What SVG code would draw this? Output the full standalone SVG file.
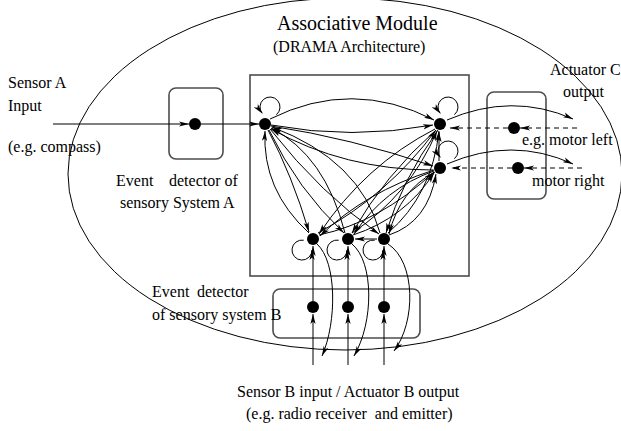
<svg xmlns="http://www.w3.org/2000/svg" width="621" height="431" viewBox="0 0 621 431">
<defs>
<marker id="ah" markerUnits="userSpaceOnUse" markerWidth="10" markerHeight="6" viewBox="0 0 10 6" refX="10" refY="3" orient="auto">
<path d="M0,0.4 L10,3 L0,5.6 L2.5,3 z" fill="#000"/>
</marker>
<style>
text{font-family:"Liberation Serif","Times New Roman",serif;font-size:16px;fill:#000}
.title{font-size:20px}
.box{fill:none;stroke:#4d4d4d;stroke-width:1.6}
.dot{fill:#000}
.c{fill:none;stroke:#000;stroke-width:1;marker-end:url(#ah)}
.d{fill:none;stroke:#000;stroke-width:1;stroke-dasharray:5,4;marker-end:url(#ah)}
.ell{fill:none;stroke:#000;stroke-width:1}
</style>
</defs>
<rect width="621" height="431" fill="#fff"/>

<g id="module">
<ellipse class="ell" cx="345" cy="174" rx="277" ry="176"/>
<text class="title" x="277" y="30">Associative Module</text>
<text x="273" y="52">(DRAMA Architecture)</text>
<rect class="box" x="250" y="75" width="219" height="201"/>
</g>

<g id="sensorA-label">
<text x="8" y="88">Sensor A</text>
<text x="8" y="111">Input</text>
<text x="8" y="152">(e.g. compass)</text>
</g>

<g id="detectorA">
<rect class="box" x="169" y="88" width="54" height="71" rx="7"/>
<circle class="dot" cx="195" cy="124" r="6"/>
<text x="116" y="186">Event<tspan x="169">detector of</tspan></text>
<text x="120" y="208">sensory System A</text>
</g>

<g id="actuatorC">
<rect class="box" x="487" y="92" width="59" height="107" rx="7"/>
<circle class="dot" cx="514" cy="128" r="6"/>
<circle class="dot" cx="518" cy="168" r="6"/>
<text x="550" y="75">Actuator C</text>
<text x="563" y="97">output</text>
<text x="522" y="145">e.g. motor left</text>
<text x="532" y="186">motor right</text>
</g>

<g id="detectorB">
<rect class="box" x="273" y="289" width="147" height="49" rx="7"/>
<circle class="dot" cx="313" cy="307" r="6"/>
<circle class="dot" cx="348" cy="307" r="6"/>
<circle class="dot" cx="384" cy="307" r="6"/>
<text x="152" y="297">Event<tspan x="197">detector</tspan></text>
<text x="152" y="320">of sensory system B</text>
</g>

<g id="sensorB-label">
<text x="237" y="397">Sensor B input / Actuator B output</text>
<text x="246" y="419">(e.g. radio receiver <tspan dx="4">and emitter)</tspan></text>
</g>

<g id="node-A"><circle class="dot" cx="265" cy="124" r="6"/></g>
<g id="node-B"><circle class="dot" cx="440" cy="124" r="6"/></g>
<g id="node-C"><circle class="dot" cx="440" cy="168" r="6"/></g>
<g id="node-D"><circle class="dot" cx="313" cy="239" r="6"/></g>
<g id="node-E"><circle class="dot" cx="348" cy="239" r="6"/></g>
<g id="node-F"><circle class="dot" cx="384" cy="239" r="6"/></g>

<g id="connectors">
<!-- external inputs -->
<path class="c" d="M53,124 L189,124"/>
<path class="c" d="M201,124 L259,124"/>
<path class="d" d="M577,128 L520,128"/>
<path class="d" d="M508,128 L450,128"/>
<path class="d" d="M582,168 L524,168"/>
<path class="d" d="M512,168 L451,168"/>
<path class="c" d="M447,120 Q512,92 573,119"/>
<path class="c" d="M447,164 Q512,136 573,164"/>
<path class="c" d="M313,365 L313,314"/>
<path class="c" d="M313,301 L313,246"/>
<path class="c" d="M348,365 L348,314"/>
<path class="c" d="M348,301 L348,246"/>
<path class="c" d="M384,365 L384,314"/>
<path class="c" d="M384,301 L384,246"/>
<path class="c" d="M317,244 C337,262 337,322 322,356"/>
<path class="c" d="M352,244 C374,262 374,322 354,356"/>
<path class="c" d="M388,244 C416,262 416,322 394,351"/>
<!-- self loops -->
<path class="c" d="M276.4,114.7 A10,10 0 1 0 262.3,113.4"/>
<path class="c" d="M454.4,114.7 A10,10 0 1 0 440.3,113.4"/>
<path class="c" d="M454.4,158.7 A10,10 0 1 0 440.3,157.4"/>
<path class="c" d="M303.7,240.2 A10,10 0 1 0 312,250"/>
<path class="c" d="M338.7,240.2 A10,10 0 1 0 347,250"/>
<path class="c" d="M374.7,240.2 A10,10 0 1 0 383,250"/>
<!-- mesh -->
<path class="c" d="M270,119 Q352,78 434,120"/>
<path class="c" d="M271,125 Q352,140 433,125"/>
<path class="c" d="M271,126 Q350,138 433,166"/>
<path class="c" d="M433,170 Q345,170 271,129"/>
<path class="c" d="M309,233 Q262,190 265,131"/>
<path class="c" d="M268,130 Q292,175 309,232"/>
<path class="c" d="M269,130 Q298,190 344,233"/>
<path class="c" d="M345,233 Q325,155 271,128"/>
<path class="c" d="M270,129 Q322,195 379,234"/>
<path class="c" d="M380,233 Q360,160 272,127"/>
<path class="c" d="M435,129 Q365,165 319,234"/>
<path class="c" d="M318,233 Q388,195 436,130"/>
<path class="c" d="M436,130 Q385,175 352,233"/>
<path class="c" d="M352,233 Q410,195 437,131"/>
<path class="c" d="M438,130 Q402,180 386,233"/>
<path class="c" d="M388,233 Q432,195 439,131"/>
<path class="c" d="M434,170 Q365,192 320,236"/>
<path class="c" d="M319,235 Q380,222 434,172"/>
<path class="c" d="M434,171 Q385,188 354,234"/>
<path class="c" d="M353,235 Q405,218 434,173"/>
<path class="c" d="M435,172 Q400,190 389,234"/>
<path class="c" d="M389,235 Q428,222 436,174"/>
<path class="c" d="M439,161 L439,132"/>
<path class="c" d="M377,239 L355,239"/>
</g>
</svg>
